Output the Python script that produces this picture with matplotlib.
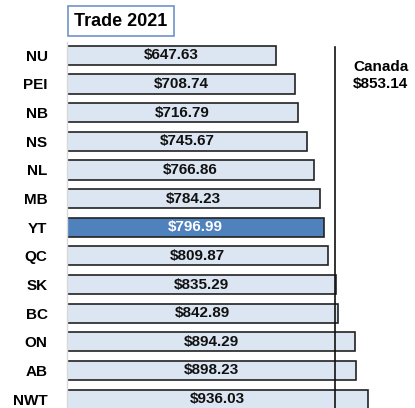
import matplotlib
matplotlib.use("Agg")
import matplotlib.pyplot as plt

provinces = ["NU", "PEI", "NB", "NS", "NL", "MB", "YT", "QC", "SK", "BC", "ON", "AB", "NWT"]
trade = [647.63, 708.74, 716.79, 745.67, 766.86, 784.23, 796.99, 809.87, 835.29, 842.89, 894.29, 898.23, 936.03]
highlight = "YT"
canada_value = 853.14
canada_line = 833

plt.rcParams["font.family"] = ["Liberation Sans", "DejaVu Sans"]

fig = plt.figure(figsize=(4.15, 4.08), dpi=100)
ax = fig.add_axes([67 / 415, 0, 322 / 415, 1 - 42 / 408])

ypos = range(len(provinces))
colors = ["#4f81bd" if p == highlight else "#dce6f2" for p in provinces]
bars = ax.barh(ypos, trade, height=0.67, color=colors, edgecolor="#222222", linewidth=1.2)

for b, p, v in zip(bars, provinces, trade):
    ax.text(b.get_width() / 2, b.get_y() + b.get_height() / 2, f"${v:,.2f}",
            ha="center", va="center", fontsize=11, fontweight="bold",
            color="white" if p == highlight else "#111111")

ax.axvline(canada_line, ymin=0, ymax=0.985, color="#111111", linewidth=1.2)
fig.text(353 / 415, 1 - 67 / 408, "Canada", ha="left", va="center", fontsize=11, fontweight="bold")
fig.text(353 / 415, 1 - 84 / 408, f"${canada_value:,.2f}", ha="left", va="center", fontsize=11, fontweight="bold")

ax.set_xlim(0, 1000)
ax.set_ylim(12.31, -0.465)
ax.set_yticks(list(ypos))
ax.set_yticklabels(provinces, fontsize=11, fontweight="bold")
ax.tick_params(axis="y", length=0, pad=14)
ax.set_xticks([])
for s in ["top", "right", "bottom"]:
    ax.spines[s].set_visible(False)
ax.spines["left"].set_color("#d9d9d9")
ax.spines["left"].set_linewidth(1)

fig.text(121 / 415, 1 - 21 / 408, "Trade 2021", ha="center", va="center", fontsize=13, fontweight="bold",
         bbox=dict(boxstyle="square,pad=0.35", facecolor="white", edgecolor="#6f93c8", linewidth=1.2))

plt.savefig("out.png", dpi=100)
plt.close()
